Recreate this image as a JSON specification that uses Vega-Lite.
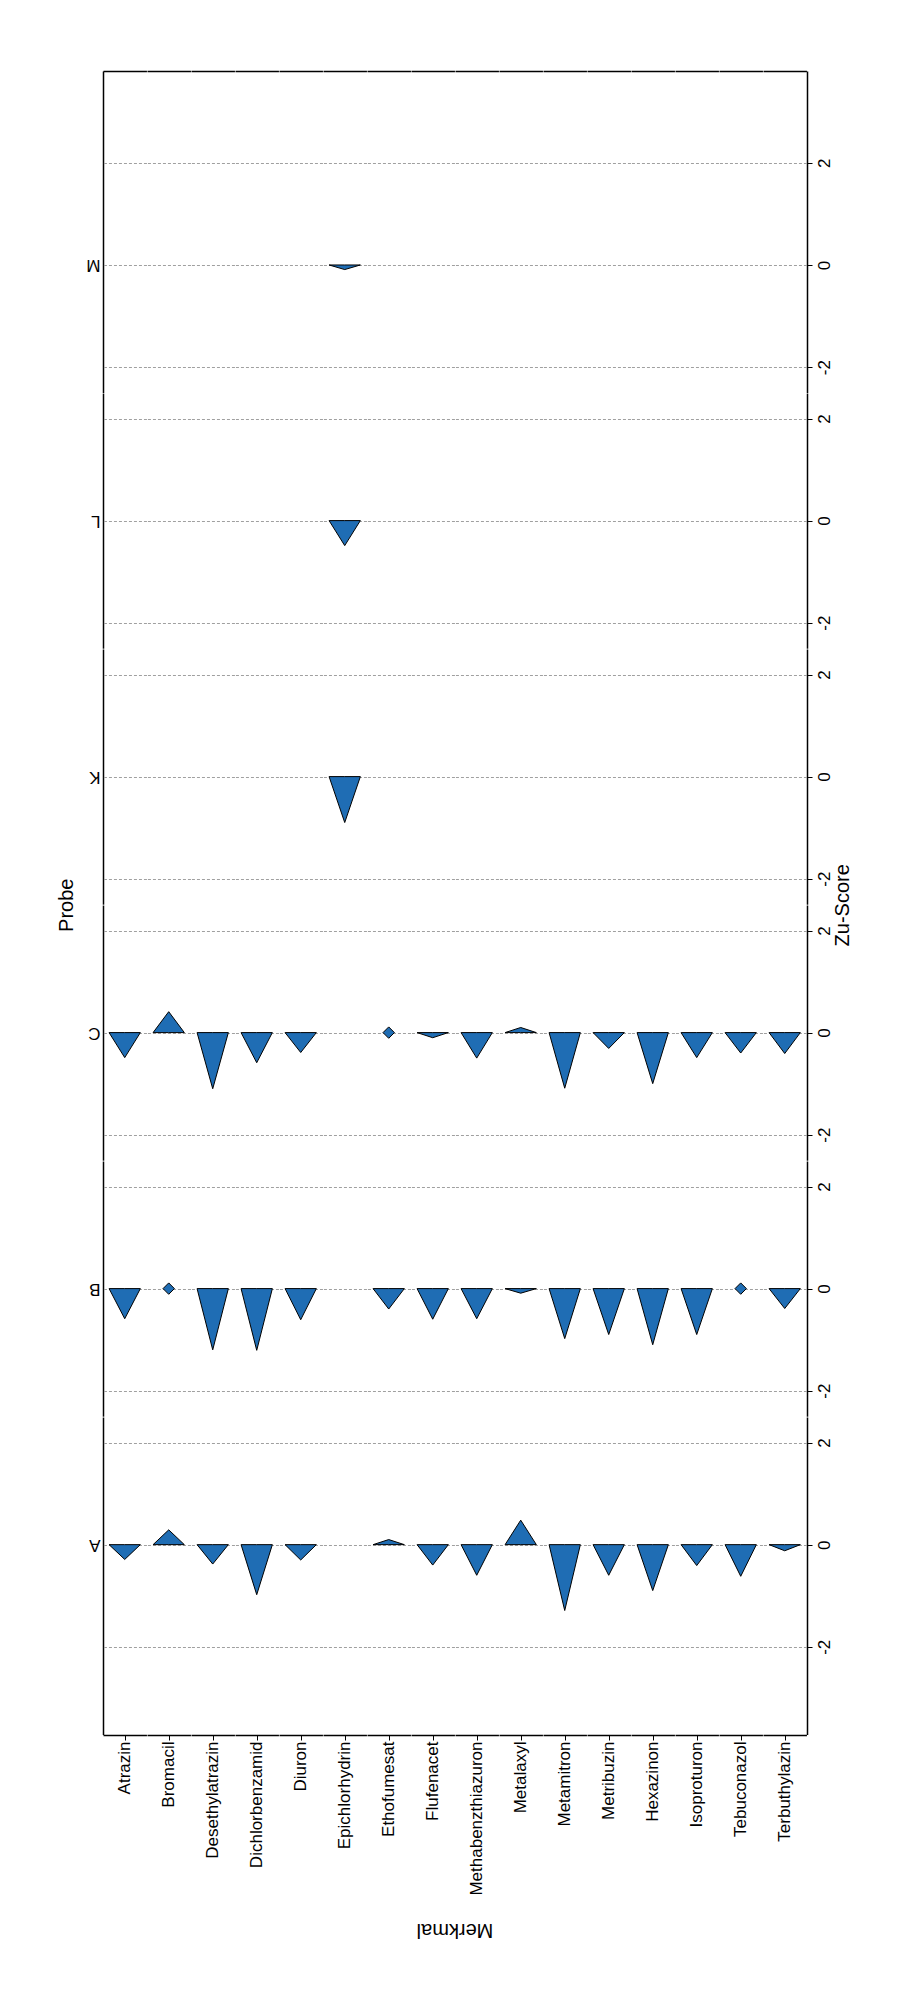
{
  "$schema": "https://vega.github.io/schema/vega-lite/v6.json",
  "padding": {"left": 56, "top": 71, "right": 10, "bottom": 10},
  "background": "white",
  "config": {
    "font": "Liberation Sans",
    "view": {"stroke": null},
    "axis": {"labelFont": "Liberation Sans", "titleFont": "Liberation Sans", "labelColor": "#000000", "titleColor": "#000000", "titleFontWeight": "normal", "domainColor": "#000000", "domainWidth": 1.5},
    "header": {"labelFont": "Liberation Sans", "titleFont": "Liberation Sans", "labelColor": "#000000", "titleColor": "#000000", "titleFontWeight": "normal"}
  },
  "datasets": {
    "zscores": [
      {"Probe": "A", "Merkmal": "Atrazin", "score": -0.29},
      {"Probe": "A", "Merkmal": "Bromacil", "score": 0.29},
      {"Probe": "A", "Merkmal": "Desethylatrazin", "score": -0.38},
      {"Probe": "A", "Merkmal": "Dichlorbenzamid", "score": -0.98},
      {"Probe": "A", "Merkmal": "Diuron", "score": -0.3},
      {"Probe": "A", "Merkmal": "Ethofumesat", "score": 0.1},
      {"Probe": "A", "Merkmal": "Flufenacet", "score": -0.4},
      {"Probe": "A", "Merkmal": "Methabenzthiazuron", "score": -0.6},
      {"Probe": "A", "Merkmal": "Metalaxyl", "score": 0.48},
      {"Probe": "A", "Merkmal": "Metamitron", "score": -1.29},
      {"Probe": "A", "Merkmal": "Metribuzin", "score": -0.6},
      {"Probe": "A", "Merkmal": "Hexazinon", "score": -0.9},
      {"Probe": "A", "Merkmal": "Isoproturon", "score": -0.41},
      {"Probe": "A", "Merkmal": "Tebuconazol", "score": -0.62},
      {"Probe": "A", "Merkmal": "Terbuthylazin", "score": -0.12},
      {"Probe": "B", "Merkmal": "Atrazin", "score": -0.59},
      {"Probe": "B", "Merkmal": "Bromacil", "score": 0},
      {"Probe": "B", "Merkmal": "Desethylatrazin", "score": -1.2},
      {"Probe": "B", "Merkmal": "Dichlorbenzamid", "score": -1.21},
      {"Probe": "B", "Merkmal": "Diuron", "score": -0.61},
      {"Probe": "B", "Merkmal": "Ethofumesat", "score": -0.4},
      {"Probe": "B", "Merkmal": "Flufenacet", "score": -0.6},
      {"Probe": "B", "Merkmal": "Methabenzthiazuron", "score": -0.59},
      {"Probe": "B", "Merkmal": "Metalaxyl", "score": -0.09},
      {"Probe": "B", "Merkmal": "Metamitron", "score": -0.98},
      {"Probe": "B", "Merkmal": "Metribuzin", "score": -0.9},
      {"Probe": "B", "Merkmal": "Hexazinon", "score": -1.1},
      {"Probe": "B", "Merkmal": "Isoproturon", "score": -0.9},
      {"Probe": "B", "Merkmal": "Tebuconazol", "score": 0},
      {"Probe": "B", "Merkmal": "Terbuthylazin", "score": -0.39},
      {"Probe": "C", "Merkmal": "Atrazin", "score": -0.49},
      {"Probe": "C", "Merkmal": "Bromacil", "score": 0.41},
      {"Probe": "C", "Merkmal": "Desethylatrazin", "score": -1.1},
      {"Probe": "C", "Merkmal": "Dichlorbenzamid", "score": -0.59},
      {"Probe": "C", "Merkmal": "Diuron", "score": -0.39},
      {"Probe": "C", "Merkmal": "Ethofumesat", "score": 0},
      {"Probe": "C", "Merkmal": "Flufenacet", "score": -0.1},
      {"Probe": "C", "Merkmal": "Methabenzthiazuron", "score": -0.5},
      {"Probe": "C", "Merkmal": "Metalaxyl", "score": 0.1},
      {"Probe": "C", "Merkmal": "Metamitron", "score": -1.09},
      {"Probe": "C", "Merkmal": "Metribuzin", "score": -0.31},
      {"Probe": "C", "Merkmal": "Hexazinon", "score": -1.0},
      {"Probe": "C", "Merkmal": "Isoproturon", "score": -0.49},
      {"Probe": "C", "Merkmal": "Tebuconazol", "score": -0.4},
      {"Probe": "C", "Merkmal": "Terbuthylazin", "score": -0.41},
      {"Probe": "K", "Merkmal": "Epichlorhydrin", "score": -0.9},
      {"Probe": "L", "Merkmal": "Epichlorhydrin", "score": -0.49},
      {"Probe": "M", "Merkmal": "Epichlorhydrin", "score": -0.09}
    ]
  },
  "data": {"name": "zscores"},
  "spacing": 0,
  "resolve": {"scale": {"x": "independent", "y": "independent"}},
  "hconcat": [
    {
      "width": 1, "height": 1667.5,
      "mark": {"type": "point", "opacity": 0},
      "encoding": {"y": {"datum": 0, "type": "quantitative", "scale": {"domain": [0, 1]},
        "axis": {"orient": "left", "title": "Probe", "labels": false, "ticks": false, "domain": false, "grid": false, "titleFontSize": 20, "titleAngle": 270, "titleBaseline": "bottom", "titlePadding": 5}}}
    },
    {
      "spacing": 0,
      "resolve": {"scale": {"x": "independent", "y": "independent"}},
      "vconcat": [
        {
          "facet": {"column": {"field": "Merkmal", "type": "nominal", "title": null, "sort": ["Atrazin", "Bromacil", "Desethylatrazin", "Dichlorbenzamid", "Diuron", "Epichlorhydrin", "Ethofumesat", "Flufenacet", "Methabenzthiazuron", "Metalaxyl", "Metamitron", "Metribuzin", "Hexazinon", "Isoproturon", "Tebuconazol", "Terbuthylazin"], "header": {"labels": false, "title": null}}},
          "spacing": {"column": 0},
          "bounds": "flush",
          "spec": {
            "width": 43.4375, "height": 321.6,
            "layer": [
              {
                "transform": [{"filter": "datum.Probe === 'M' && datum.score !== 0"}, {"fold": ["score"], "as": ["vertex", "z"]}],
                "mark": {"type": "area", "fill": "#1f6db4", "stroke": "#000000", "strokeWidth": 1, "opacity": 1, "interpolate": "linear"},
                "encoding": {
                  "x": {"field": "vertex", "type": "nominal", "scale": {"type": "point", "domain": ["left", "score", "zright"], "padding": 0.389}, "axis": null},
                  "y": {"field": "z", "type": "quantitative", "stack": null, "impute": {"value": 0, "keyvals": ["left", "score", "zright"]}, "scale": {"domain": [-2.5, 3.8], "nice": false, "zero": false},
                    "axis": {"orient": "right", "values": [-2, 0, 2], "labelExpr": "datum.value + ''", "grid": true, "gridColor": "#a0a0a0", "gridDash": [3, 2], "gridWidth": 1, "ticks": true, "tickSize": 5, "tickColor": "#000000", "labelAngle": 270, "labelAlign": "center", "labelBaseline": "top", "labelPadding": 4, "labelFontSize": 17, "domain": true, "title": null}},
                  "detail": {"field": "Merkmal", "type": "nominal"}
                }
              },
              {
                "transform": [{"filter": "datum.Probe === 'M' && datum.score === 0"}],
                "mark": {"type": "point", "shape": "diamond", "filled": true, "fill": "#1f6db4", "stroke": "#000000", "strokeWidth": 1, "size": 130, "opacity": 1},
                "encoding": {"x": {"datum": "score", "type": "nominal", "axis": null}, "y": {"datum": 0, "type": "quantitative", "axis": null}}
              },
              {
                "mark": {"type": "point", "opacity": 0},
                "encoding": {
                  "x": {"datum": "score", "type": "nominal", "axis": {"orient": "top", "labels": false, "ticks": false, "domain": true, "grid": false, "title": null}},
                  "y": {"datum": 0, "type": "quantitative", "axis": {"orient": "left", "values": [0], "labelExpr": "'M'", "ticks": false, "tickSize": 0, "grid": false, "labelAngle": 180, "labelAlign": "left", "labelBaseline": "middle", "labelPadding": 3, "labelFontSize": 17, "domain": true, "title": null}}
                }
              }
            ],
            "resolve": {"axis": {"x": "independent", "y": "independent"}}
          }
        },
        {
          "facet": {"column": {"field": "Merkmal", "type": "nominal", "title": null, "sort": ["Atrazin", "Bromacil", "Desethylatrazin", "Dichlorbenzamid", "Diuron", "Epichlorhydrin", "Ethofumesat", "Flufenacet", "Methabenzthiazuron", "Metalaxyl", "Metamitron", "Metribuzin", "Hexazinon", "Isoproturon", "Tebuconazol", "Terbuthylazin"], "header": {"labels": false, "title": null}}},
          "spacing": {"column": 0},
          "bounds": "flush",
          "spec": {
            "width": 43.4375, "height": 255.2,
            "layer": [
              {
                "transform": [{"filter": "datum.Probe === 'L' && datum.score !== 0"}, {"fold": ["score"], "as": ["vertex", "z"]}],
                "mark": {"type": "area", "fill": "#1f6db4", "stroke": "#000000", "strokeWidth": 1, "opacity": 1, "interpolate": "linear"},
                "encoding": {
                  "x": {"field": "vertex", "type": "nominal", "scale": {"type": "point", "domain": ["left", "score", "zright"], "padding": 0.389}, "axis": null},
                  "y": {"field": "z", "type": "quantitative", "stack": null, "impute": {"value": 0, "keyvals": ["left", "score", "zright"]}, "scale": {"domain": [-2.5, 2.5], "nice": false, "zero": false},
                    "axis": {"orient": "right", "values": [-2, 0, 2], "labelExpr": "datum.value + ''", "grid": true, "gridColor": "#a0a0a0", "gridDash": [3, 2], "gridWidth": 1, "ticks": true, "tickSize": 5, "tickColor": "#000000", "labelAngle": 270, "labelAlign": "center", "labelBaseline": "top", "labelPadding": 4, "labelFontSize": 17, "domain": true, "title": null}},
                  "detail": {"field": "Merkmal", "type": "nominal"}
                }
              },
              {
                "transform": [{"filter": "datum.Probe === 'L' && datum.score === 0"}],
                "mark": {"type": "point", "shape": "diamond", "filled": true, "fill": "#1f6db4", "stroke": "#000000", "strokeWidth": 1, "size": 130, "opacity": 1},
                "encoding": {"x": {"datum": "score", "type": "nominal", "axis": null}, "y": {"datum": 0, "type": "quantitative", "axis": null}}
              },
              {
                "mark": {"type": "point", "opacity": 0},
                "encoding": {
                  "x": {"datum": "score", "type": "nominal", "axis": null},
                  "y": {"datum": 0, "type": "quantitative", "axis": {"orient": "left", "values": [0], "labelExpr": "'L'", "ticks": false, "tickSize": 0, "grid": false, "labelAngle": 180, "labelAlign": "left", "labelBaseline": "middle", "labelPadding": 3, "labelFontSize": 17, "domain": true, "title": null}}
                }
              }
            ],
            "resolve": {"axis": {"x": "independent", "y": "independent"}}
          }
        },
        {
          "facet": {"column": {"field": "Merkmal", "type": "nominal", "title": null, "sort": ["Atrazin", "Bromacil", "Desethylatrazin", "Dichlorbenzamid", "Diuron", "Epichlorhydrin", "Ethofumesat", "Flufenacet", "Methabenzthiazuron", "Metalaxyl", "Metamitron", "Metribuzin", "Hexazinon", "Isoproturon", "Tebuconazol", "Terbuthylazin"], "header": {"labels": false, "title": null}}},
          "spacing": {"column": 0},
          "bounds": "flush",
          "spec": {
            "width": 43.4375, "height": 255.2,
            "layer": [
              {
                "transform": [{"filter": "datum.Probe === 'K' && datum.score !== 0"}, {"fold": ["score"], "as": ["vertex", "z"]}],
                "mark": {"type": "area", "fill": "#1f6db4", "stroke": "#000000", "strokeWidth": 1, "opacity": 1, "interpolate": "linear"},
                "encoding": {
                  "x": {"field": "vertex", "type": "nominal", "scale": {"type": "point", "domain": ["left", "score", "zright"], "padding": 0.389}, "axis": null},
                  "y": {"field": "z", "type": "quantitative", "stack": null, "impute": {"value": 0, "keyvals": ["left", "score", "zright"]}, "scale": {"domain": [-2.5, 2.5], "nice": false, "zero": false},
                    "axis": {"orient": "right", "values": [-2, 0, 2], "labelExpr": "datum.value + ''", "grid": true, "gridColor": "#a0a0a0", "gridDash": [3, 2], "gridWidth": 1, "ticks": true, "tickSize": 5, "tickColor": "#000000", "labelAngle": 270, "labelAlign": "center", "labelBaseline": "top", "labelPadding": 4, "labelFontSize": 17, "domain": true, "title": null}},
                  "detail": {"field": "Merkmal", "type": "nominal"}
                }
              },
              {
                "transform": [{"filter": "datum.Probe === 'K' && datum.score === 0"}],
                "mark": {"type": "point", "shape": "diamond", "filled": true, "fill": "#1f6db4", "stroke": "#000000", "strokeWidth": 1, "size": 130, "opacity": 1},
                "encoding": {"x": {"datum": "score", "type": "nominal", "axis": null}, "y": {"datum": 0, "type": "quantitative", "axis": null}}
              },
              {
                "mark": {"type": "point", "opacity": 0},
                "encoding": {
                  "x": {"datum": "score", "type": "nominal", "axis": null},
                  "y": {"datum": 0, "type": "quantitative", "axis": {"orient": "left", "values": [0], "labelExpr": "'K'", "ticks": false, "tickSize": 0, "grid": false, "labelAngle": 180, "labelAlign": "left", "labelBaseline": "middle", "labelPadding": 3, "labelFontSize": 17, "domain": true, "title": null}}
                }
              }
            ],
            "resolve": {"axis": {"x": "independent", "y": "independent"}}
          }
        },
        {
          "facet": {"column": {"field": "Merkmal", "type": "nominal", "title": null, "sort": ["Atrazin", "Bromacil", "Desethylatrazin", "Dichlorbenzamid", "Diuron", "Epichlorhydrin", "Ethofumesat", "Flufenacet", "Methabenzthiazuron", "Metalaxyl", "Metamitron", "Metribuzin", "Hexazinon", "Isoproturon", "Tebuconazol", "Terbuthylazin"], "header": {"labels": false, "title": null}}},
          "spacing": {"column": 0},
          "bounds": "flush",
          "spec": {
            "width": 43.4375, "height": 255.2,
            "layer": [
              {
                "transform": [{"filter": "datum.Probe === 'C' && datum.score !== 0"}, {"fold": ["score"], "as": ["vertex", "z"]}],
                "mark": {"type": "area", "fill": "#1f6db4", "stroke": "#000000", "strokeWidth": 1, "opacity": 1, "interpolate": "linear"},
                "encoding": {
                  "x": {"field": "vertex", "type": "nominal", "scale": {"type": "point", "domain": ["left", "score", "zright"], "padding": 0.389}, "axis": null},
                  "y": {"field": "z", "type": "quantitative", "stack": null, "impute": {"value": 0, "keyvals": ["left", "score", "zright"]}, "scale": {"domain": [-2.5, 2.5], "nice": false, "zero": false},
                    "axis": {"orient": "right", "values": [-2, 0, 2], "labelExpr": "datum.value + ''", "grid": true, "gridColor": "#a0a0a0", "gridDash": [3, 2], "gridWidth": 1, "ticks": true, "tickSize": 5, "tickColor": "#000000", "labelAngle": 270, "labelAlign": "center", "labelBaseline": "top", "labelPadding": 4, "labelFontSize": 17, "domain": true, "title": null}},
                  "detail": {"field": "Merkmal", "type": "nominal"}
                }
              },
              {
                "transform": [{"filter": "datum.Probe === 'C' && datum.score === 0"}],
                "mark": {"type": "point", "shape": "diamond", "filled": true, "fill": "#1f6db4", "stroke": "#000000", "strokeWidth": 1, "size": 130, "opacity": 1},
                "encoding": {"x": {"datum": "score", "type": "nominal", "axis": null}, "y": {"datum": 0, "type": "quantitative", "axis": null}}
              },
              {
                "mark": {"type": "point", "opacity": 0},
                "encoding": {
                  "x": {"datum": "score", "type": "nominal", "axis": null},
                  "y": {"datum": 0, "type": "quantitative", "axis": {"orient": "left", "values": [0], "labelExpr": "'C'", "ticks": false, "tickSize": 0, "grid": false, "labelAngle": 180, "labelAlign": "left", "labelBaseline": "middle", "labelPadding": 3, "labelFontSize": 17, "domain": true, "title": null}}
                }
              }
            ],
            "resolve": {"axis": {"x": "independent", "y": "independent"}}
          }
        },
        {
          "facet": {"column": {"field": "Merkmal", "type": "nominal", "title": null, "sort": ["Atrazin", "Bromacil", "Desethylatrazin", "Dichlorbenzamid", "Diuron", "Epichlorhydrin", "Ethofumesat", "Flufenacet", "Methabenzthiazuron", "Metalaxyl", "Metamitron", "Metribuzin", "Hexazinon", "Isoproturon", "Tebuconazol", "Terbuthylazin"], "header": {"labels": false, "title": null}}},
          "spacing": {"column": 0},
          "bounds": "flush",
          "spec": {
            "width": 43.4375, "height": 255.2,
            "layer": [
              {
                "transform": [{"filter": "datum.Probe === 'B' && datum.score !== 0"}, {"fold": ["score"], "as": ["vertex", "z"]}],
                "mark": {"type": "area", "fill": "#1f6db4", "stroke": "#000000", "strokeWidth": 1, "opacity": 1, "interpolate": "linear"},
                "encoding": {
                  "x": {"field": "vertex", "type": "nominal", "scale": {"type": "point", "domain": ["left", "score", "zright"], "padding": 0.389}, "axis": null},
                  "y": {"field": "z", "type": "quantitative", "stack": null, "impute": {"value": 0, "keyvals": ["left", "score", "zright"]}, "scale": {"domain": [-2.5, 2.5], "nice": false, "zero": false},
                    "axis": {"orient": "right", "values": [-2, 0, 2], "labelExpr": "datum.value + ''", "grid": true, "gridColor": "#a0a0a0", "gridDash": [3, 2], "gridWidth": 1, "ticks": true, "tickSize": 5, "tickColor": "#000000", "labelAngle": 270, "labelAlign": "center", "labelBaseline": "top", "labelPadding": 4, "labelFontSize": 17, "domain": true, "title": null}},
                  "detail": {"field": "Merkmal", "type": "nominal"}
                }
              },
              {
                "transform": [{"filter": "datum.Probe === 'B' && datum.score === 0"}],
                "mark": {"type": "point", "shape": "diamond", "filled": true, "fill": "#1f6db4", "stroke": "#000000", "strokeWidth": 1, "size": 130, "opacity": 1},
                "encoding": {"x": {"datum": "score", "type": "nominal", "axis": null}, "y": {"datum": 0, "type": "quantitative", "axis": null}}
              },
              {
                "mark": {"type": "point", "opacity": 0},
                "encoding": {
                  "x": {"datum": "score", "type": "nominal", "axis": null},
                  "y": {"datum": 0, "type": "quantitative", "axis": {"orient": "left", "values": [0], "labelExpr": "'B'", "ticks": false, "tickSize": 0, "grid": false, "labelAngle": 180, "labelAlign": "left", "labelBaseline": "middle", "labelPadding": 3, "labelFontSize": 17, "domain": true, "title": null}}
                }
              }
            ],
            "resolve": {"axis": {"x": "independent", "y": "independent"}}
          }
        },
        {
          "facet": {"column": {"field": "Merkmal", "type": "nominal", "sort": ["Atrazin", "Bromacil", "Desethylatrazin", "Dichlorbenzamid", "Diuron", "Epichlorhydrin", "Ethofumesat", "Flufenacet", "Methabenzthiazuron", "Metalaxyl", "Metamitron", "Metribuzin", "Hexazinon", "Isoproturon", "Tebuconazol", "Terbuthylazin"],
            "header": {"title": "Merkmal", "titleOrient": "bottom", "titleAngle": 180, "titleBaseline": "bottom", "titleAlign": "center", "titleFontSize": 20, "titlePadding": 14,
              "labelOrient": "bottom", "labelAngle": 270, "labelAlign": "right", "labelBaseline": "middle", "labelFontSize": 17, "labelPadding": 1}}},
          "spacing": {"column": 0},
          "bounds": "flush",
          "spec": {
            "width": 43.4375, "height": 317.6,
            "layer": [
              {
                "transform": [{"filter": "datum.Probe === 'A' && datum.score !== 0"}, {"fold": ["score"], "as": ["vertex", "z"]}],
                "mark": {"type": "area", "fill": "#1f6db4", "stroke": "#000000", "strokeWidth": 1, "opacity": 1, "interpolate": "linear"},
                "encoding": {
                  "x": {"field": "vertex", "type": "nominal", "scale": {"type": "point", "domain": ["left", "score", "zright"], "padding": 0.389},
                    "axis": {"orient": "bottom", "values": ["score"], "labels": false, "ticks": true, "tickSize": 5, "tickColor": "#000000", "tickWidth": 1, "domain": true, "grid": false, "title": null}},
                  "y": {"field": "z", "type": "quantitative", "stack": null, "impute": {"value": 0, "keyvals": ["left", "score", "zright"]}, "scale": {"domain": [-3.72, 2.5], "nice": false, "zero": false},
                    "axis": {"orient": "right", "values": [-2, 0, 2], "labelExpr": "datum.value + ''", "grid": true, "gridColor": "#a0a0a0", "gridDash": [3, 2], "gridWidth": 1, "ticks": true, "tickSize": 5, "tickColor": "#000000", "labelAngle": 270, "labelAlign": "center", "labelBaseline": "top", "labelPadding": 4, "labelFontSize": 17, "domain": true, "title": null}},
                  "detail": {"field": "Merkmal", "type": "nominal"}
                }
              },
              {
                "transform": [{"filter": "datum.Probe === 'A' && datum.score === 0"}],
                "mark": {"type": "point", "shape": "diamond", "filled": true, "fill": "#1f6db4", "stroke": "#000000", "strokeWidth": 1, "size": 130, "opacity": 1},
                "encoding": {"x": {"datum": "score", "type": "nominal", "axis": null}, "y": {"datum": 0, "type": "quantitative", "axis": null}}
              },
              {
                "mark": {"type": "point", "opacity": 0},
                "encoding": {
                  "x": {"datum": "score", "type": "nominal", "axis": null},
                  "y": {"datum": 0, "type": "quantitative", "axis": {"orient": "left", "values": [0], "labelExpr": "'A'", "ticks": false, "tickSize": 0, "grid": false, "labelAngle": 180, "labelAlign": "left", "labelBaseline": "middle", "labelPadding": 3, "labelFontSize": 17, "domain": true, "title": null}}
                }
              }
            ],
            "resolve": {"axis": {"x": "independent", "y": "independent"}}
          }
        }
      ]
    },
    {
      "width": 1, "height": 1667.5,
      "mark": {"type": "point", "opacity": 0},
      "encoding": {"y": {"datum": 0, "type": "quantitative", "scale": {"domain": [0, 1]},
        "axis": {"orient": "left", "title": "Zu-Score", "labels": false, "ticks": false, "domain": false, "grid": false, "titleFontSize": 20, "titleAngle": 270, "titleBaseline": "bottom", "titlePadding": 0}}}
    }
  ]
}
